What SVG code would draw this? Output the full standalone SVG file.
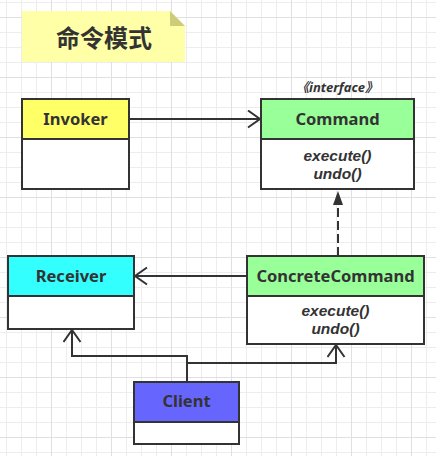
<svg xmlns="http://www.w3.org/2000/svg" width="436" height="456" viewBox="0 0 436 456">
<style>
.box{fill:none;stroke:#333;stroke-width:2}
.body{fill:#fff}
.div{stroke:#333;stroke-width:2}
.name{font-family:"Noto Sans","Open Sans",sans-serif;font-weight:bold;font-size:16.5px;fill:#333;text-anchor:middle}
.meth{font-family:"Liberation Sans",Arial,sans-serif;font-weight:bold;font-style:italic;font-size:15.5px;fill:#333;text-anchor:middle}
.conn{fill:none;stroke:#333;stroke-width:2}
</style>
<defs>
<pattern id="g1" patternUnits="userSpaceOnUse" x="6" y="2" width="15" height="15">
<rect x="0" y="0" width="1" height="15" fill="#ededed"/>
<rect x="0" y="0" width="15" height="1" fill="#ededed"/>
</pattern>
<pattern id="g2" patternUnits="userSpaceOnUse" x="51" y="17" width="60" height="60">
<rect x="0" y="0" width="1" height="60" fill="#e0e0e0"/>
<rect x="0" y="0" width="60" height="1" fill="#e0e0e0"/>
</pattern>
<marker id="open" markerUnits="userSpaceOnUse" markerWidth="16" markerHeight="20" refX="13" refY="9.5" orient="auto" viewBox="0 0 16 20">
<path d="M1,1 L13,9.5 L1,18" fill="none" stroke="#333" stroke-width="2"/>
</marker>
<marker id="tri" markerUnits="userSpaceOnUse" markerWidth="16" markerHeight="12" refX="14" refY="5" orient="auto" viewBox="0 0 16 12">
<path d="M0,0 L14,5 L0,10 z" fill="#333"/>
</marker>
</defs>
<rect width="436" height="456" fill="#fff"/>
<rect width="436" height="456" fill="url(#g1)"/>
<rect width="436" height="456" fill="url(#g2)"/>

<g id="title">
<path d="M22,11 L170,11 L185,26 L185,62 L22,62 Z" fill="#ffffa8"/>
<path d="M170,11 L185,26 L170,26 Z" fill="#cccc7a"/>
<text x="104" y="47" font-family="'Noto Sans CJK SC',sans-serif" font-weight="bold" font-size="24" fill="#333" text-anchor="middle">命令模式</text>
</g>

<g id="connectors">
<line class="conn" x1="129" y1="119" x2="260" y2="119" marker-end="url(#open)"/>
<line class="conn" x1="338" y1="256" x2="338" y2="191" stroke-dasharray="9 4" marker-end="url(#tri)"/>
<line class="conn" x1="247" y1="276" x2="135" y2="276" marker-end="url(#open)"/>
<polyline class="conn" points="187,382 187,356 72,356 72,330" marker-end="url(#open)"/>
<polyline class="conn" points="187,363 336,363 336,345" marker-end="url(#open)"/>
</g>

<g id="invoker">
<rect class="body" x="22" y="99" width="107" height="90"/>
<rect x="22" y="99" width="107" height="40" fill="#ffff66"/>
<rect class="box" x="22" y="99" width="107" height="90"/>
<line class="div" x1="22" y1="139" x2="129" y2="139"/>
<text class="name" x="75.5" y="125">Invoker</text>
</g>

<g id="command">
<text x="337" y="92" font-family="'Noto Sans','Noto Sans CJK SC',sans-serif" font-weight="bold" font-style="italic" font-size="13" fill="#333" text-anchor="middle">《interface》</text>
<rect class="body" x="261" y="99" width="153" height="90"/>
<rect x="261" y="99" width="153" height="40" fill="#99ff99"/>
<rect class="box" x="261" y="99" width="153" height="90"/>
<line class="div" x1="261" y1="139" x2="414" y2="139"/>
<text class="name" x="337.5" y="125">Command</text>
<text class="meth" x="337.5" y="161">execute()</text>
<text class="meth" x="337.5" y="179">undo()</text>
</g>

<g id="receiver">
<rect class="body" x="8" y="256" width="126" height="73"/>
<rect x="8" y="256" width="126" height="40" fill="#33ffff"/>
<rect class="box" x="8" y="256" width="126" height="73"/>
<line class="div" x1="8" y1="296" x2="134" y2="296"/>
<text class="name" x="71" y="282">Receiver</text>
</g>

<g id="concretecommand">
<rect class="body" x="247" y="256" width="177" height="88"/>
<rect x="247" y="256" width="177" height="40" fill="#99ff99"/>
<rect class="box" x="247" y="256" width="177" height="88"/>
<line class="div" x1="247" y1="296" x2="424" y2="296"/>
<text class="name" x="335.5" y="282">ConcreteCommand</text>
<text class="meth" x="335.5" y="316">execute()</text>
<text class="meth" x="335.5" y="334">undo()</text>
</g>

<g id="client">
<rect class="body" x="134" y="382" width="105" height="62"/>
<rect x="134" y="382" width="105" height="40" fill="#6666ff"/>
<rect class="box" x="134" y="382" width="105" height="62"/>
<line class="div" x1="134" y1="422" x2="239" y2="422"/>
<text class="name" x="186.5" y="407">Client</text>
</g>
</svg>
